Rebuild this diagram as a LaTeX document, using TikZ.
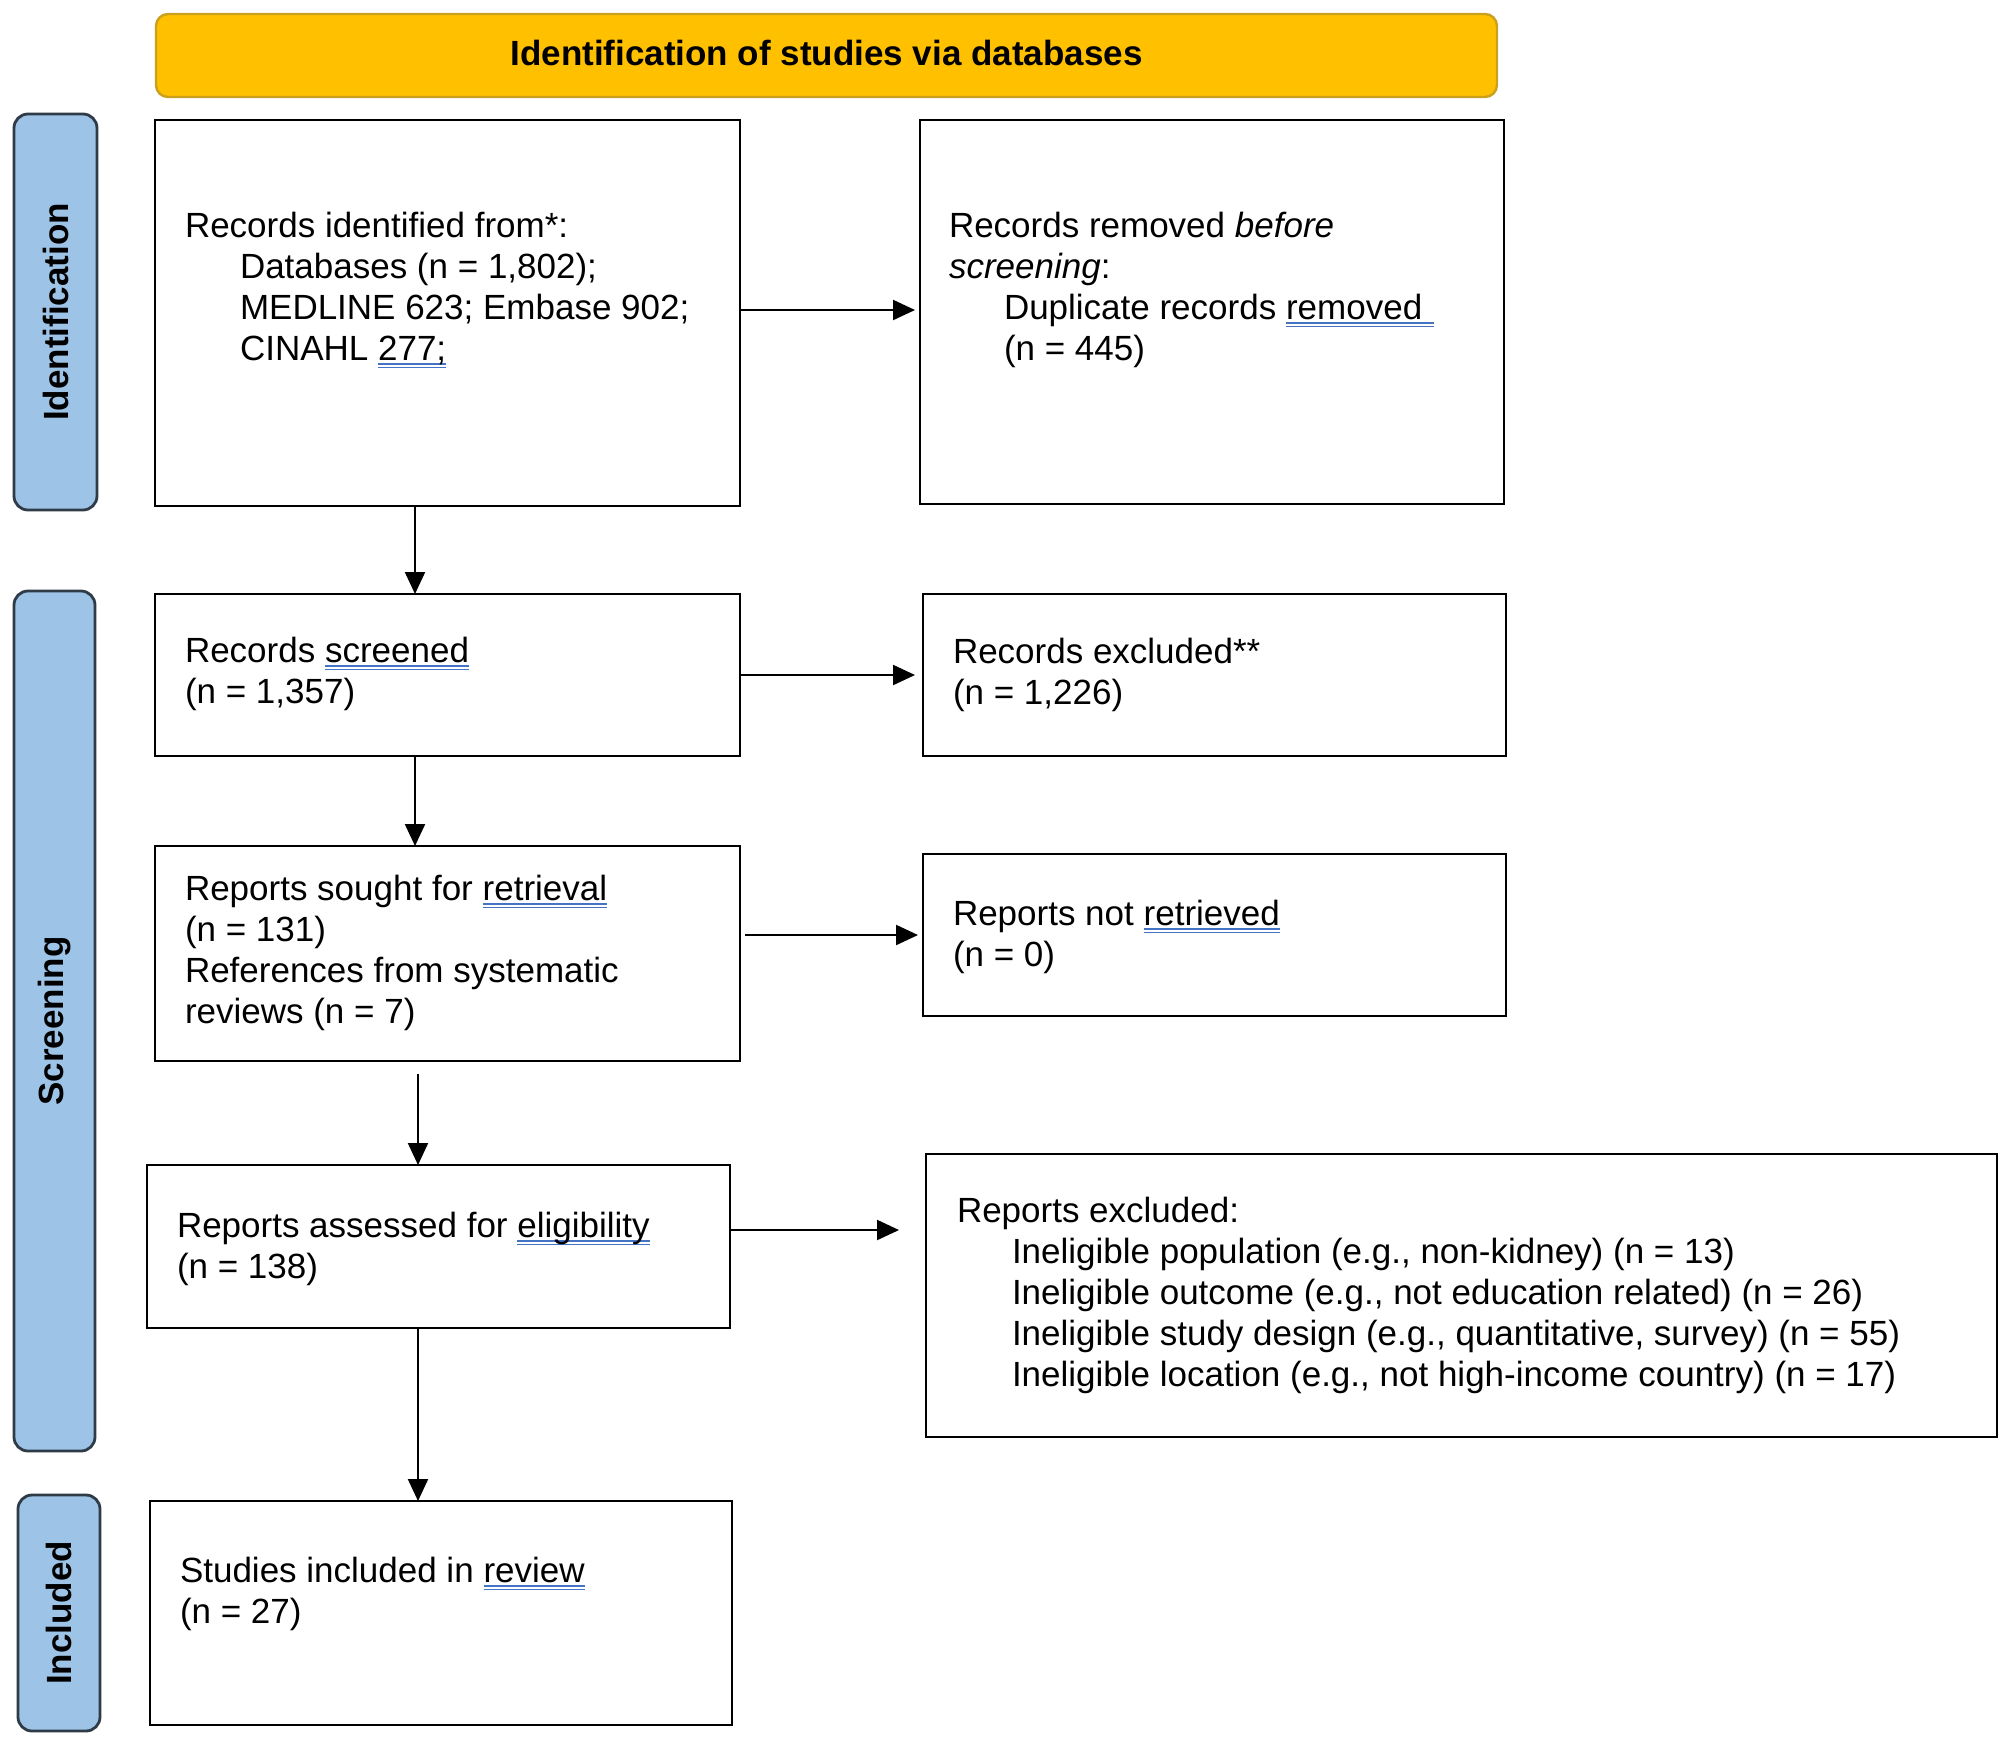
\documentclass[tikz,border=0pt]{standalone}
\usepackage{fontspec}
\setmainfont{Liberation Sans}
\usetikzlibrary{arrows.meta}
\definecolor{bannerfill}{HTML}{FFC000}
\definecolor{bannerdraw}{HTML}{C9A11E}
\definecolor{phasefill}{HTML}{9DC3E6}
\definecolor{phasedraw}{HTML}{2F3B47}
\definecolor{spellblue}{HTML}{4472C4}
\newsavebox\spellbox
\newcommand\spell[1]{\leavevmode\sbox\spellbox{#1}%
  \rlap{\color{spellblue}\rule[-2.3pt]{\wd\spellbox}{0.7pt}}%
  \rlap{\color{spellblue}\rule[-4.2pt]{\wd\spellbox}{0.7pt}}%
  \usebox\spellbox}
\newcommand\boxfont{\fontsize{17.5pt}{20.5pt}\selectfont}
\newcommand\ind{\hspace*{27.5pt}}
\newcommand\txtpar[1]{\parbox[t]{520pt}{\raggedright #1}}
\begin{document}
\begin{tikzpicture}[x=0.5pt,y=-0.5pt,
  flowbox/.style={draw=black,line width=1.4pt,fill=white,inner sep=0pt,outer sep=0pt},
  phase/.style={draw=phasedraw,fill=phasefill,line width=1.4pt,rounded corners=7pt,inner sep=0pt,outer sep=0pt,font=\boxfont\bfseries,rotate=90},
  banner/.style={draw=bannerdraw,fill=bannerfill,line width=1.2pt,rounded corners=6pt,inner sep=0pt,outer sep=0pt,font=\boxfont\bfseries},
  txt/.style={anchor=base west,inner sep=0pt,outer sep=0pt,font=\boxfont},
  arr/.style={draw=black,line width=1.1pt,-{Triangle[length=11pt,width=10pt]}}]
\useasboundingbox[fill=white] (0,0) rectangle (2008,1741);

% banner
\node[banner,minimum width=670.5pt,minimum height=41.5pt] (banner) at (826.5,55.5) {\raisebox{2.5pt}{Identification of studies via databases}};

% phase labels
\node[phase,minimum width=198pt,minimum height=41.5pt] (idlab) at (55.5,312) {Identification};
\node[phase,minimum width=430pt,minimum height=40.5pt] (scrlab) at (54.5,1021) {Screening};
\node[phase,minimum width=118pt,minimum height=41pt] (inclab) at (59,1613) {Included};

% boxes
\node[flowbox,minimum width=292.5pt,minimum height=193pt] (b1) at (447.5,313) {};
\node[flowbox,minimum width=292pt,minimum height=192pt] (b2) at (1212,312) {};
\node[flowbox,minimum width=292.5pt,minimum height=81pt] (b3) at (447.5,675) {};
\node[flowbox,minimum width=291.5pt,minimum height=81pt] (b4) at (1214.5,675) {};
\node[flowbox,minimum width=292.5pt,minimum height=107.5pt] (b5) at (447.5,953.5) {};
\node[flowbox,minimum width=291.5pt,minimum height=81pt] (b6) at (1214.5,935) {};
\node[flowbox,minimum width=291.5pt,minimum height=81.5pt] (b7) at (438.5,1246.5) {};
\node[flowbox,minimum width=535.5pt,minimum height=141.5pt] (b8) at (1461.5,1295.5) {};
\node[flowbox,minimum width=291pt,minimum height=112pt] (b9) at (441,1613) {};

% texts
\node[txt] (t1) at (185,237) {\txtpar{Records identified from*:\\
  \ind Databases (n = 1,802);\\
  \ind MEDLINE 623; Embase 902;\\
  \ind CINAHL \spell{277;}}};
\node[txt] (t2) at (949,237) {\txtpar{Records removed \textit{before}\\
  \textit{screening}:\\
  \ind Duplicate records \spell{removed\hbox to 6pt{}}\\
  \ind (n = 445)}};
\node[txt] (t3) at (185,662) {\txtpar{Records \spell{screened}\\(n = 1,357)}};
\node[txt] (t4) at (953,663) {\txtpar{Records excluded**\\(n = 1,226)}};
\node[txt] (t5) at (185,900) {\txtpar{Reports sought for \spell{retrieval}\\(n = 131)\\References from systematic\\reviews (n = 7)}};
\node[txt] (t6) at (953,925) {\txtpar{Reports not \spell{retrieved}\\(n = 0)}};
\node[txt] (t7) at (177,1237) {\txtpar{Reports assessed for \spell{eligibility}\\(n = 138)}};
\node[txt] (t8) at (957,1222) {\txtpar{Reports excluded:\\
  \ind Ineligible population (e.g., non-kidney) (n = 13)\\
  \ind Ineligible outcome (e.g., not education related) (n = 26)\\
  \ind Ineligible study design (e.g., quantitative, survey) (n = 55)\\
  \ind Ineligible location (e.g., not high-income country) (n = 17)}};
\node[txt] (t9) at (180,1582) {\txtpar{Studies included in \spell{review}\\(n = 27)}};

% helper coordinates
\coordinate (xa) at (415,0);
\coordinate (xb) at (418,0);
\coordinate (ya) at (0,310);
\coordinate (yb) at (0,1230);

% connectors
\draw[arr,shorten >=2.5pt] (b1.east |- ya) -- (b2.west |- ya);
\draw[arr] (b1.south -| xa) -- (b3.north -| xa);
\draw[arr,shorten >=4pt] (b3.east) -- (b4.west);
\draw[arr] (b3.south -| xa) -- (b5.north -| xa);
\draw[arr,shorten <=2.5pt,shorten >=2.5pt] (b5.east |- b6.west) -- (b6.west);
\draw[arr,shorten <=6.5pt] (b5.south -| xb) -- (b7.north -| xb);
\draw[arr,shorten >=13.5pt] (b7.east |- yb) -- (b8.west |- yb);
\draw[arr] (b7.south -| xb) -- (b9.north -| xb);
\end{tikzpicture}
\end{document}
